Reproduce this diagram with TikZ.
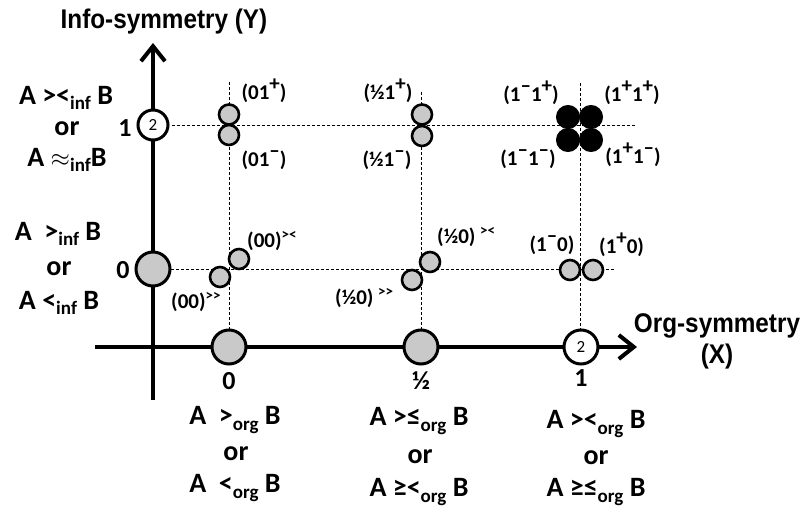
\documentclass[tikz,border=0pt]{standalone}
\usepackage{fontspec}
\setmainfont{Carlito}
\newfontfamily\titlefont[FakeStretch=0.9]{Liberation Sans Bold}
\usetikzlibrary{arrows.meta}
\newcommand\subtxt[1]{\raisebox{-0.4ex}{\fontsize{19}{19}\selectfont #1}}
\newcommand\suptxt[1]{\raisebox{0.85ex}{\fontsize{21}{21}\selectfont #1}}
\newcommand\supsm[1]{\raisebox{0.8ex}{\fontsize{15}{15}\selectfont #1}}
\begin{document}
\begin{tikzpicture}[x=1pt,y=-1pt,
  axis/.style={line width=4.5pt,-{Straight Barb[length=15pt,width=24pt,line width=4pt]}},
  grid/.style={densely dashed,line width=0.8pt},
  bigc/.style={circle,draw,line width=3pt,fill=gray!42,minimum size=34pt,inner sep=0pt},
  wc/.style={circle,draw,line width=3pt,fill=white,inner sep=0pt,font=\fontsize{17}{17}\selectfont},
  smc/.style={circle,draw,line width=2.6pt,fill=gray!42,minimum size=20pt,inner sep=0pt},
  blk/.style={circle,draw,line width=1pt,fill=black,minimum size=23pt,inner sep=0pt},
  lab/.style={font=\bfseries\fontsize{28}{28}\selectfont,inner sep=0pt},
  tk/.style={font=\bfseries\fontsize{26}{26}\selectfont,inner sep=0pt},
  pl/.style={font=\bfseries\fontsize{21}{21}\selectfont,inner sep=0pt},
  ttl/.style={font=\titlefont\fontsize{27}{31}\selectfont,inner sep=0pt,align=center}]
\useasboundingbox (0,0) rectangle (804,516);

% grid lines
\coordinate (h1a) at (172,125); \coordinate (h1b) at (635,125);
\coordinate (h0a) at (171,269); \coordinate (h0b) at (615,269);
\coordinate (v0a) at (229,82);  \coordinate (v0b) at (229,330);
\coordinate (vha) at (421,92);  \coordinate (vhb) at (421,330);
\coordinate (v1a) at (580,83);  \coordinate (v1b) at (580,330);
\draw[grid] (h1a) -- (h1b);
\draw[grid] (h0a) -- (h0b);
\draw[grid] (v0a) -- (v0b);
\draw[grid] (vha) -- (vhb);
\draw[grid] (v1a) -- (v1b);

% axes
\coordinate (xs) at (95,347); \coordinate (xe) at (637,347);
\coordinate (ys) at (153,400); \coordinate (ye) at (153,43);
\draw[axis] (xs) -- (xe);
\draw[axis] (ys) -- (ye);

% axis circles
\node[wc,minimum size=30pt] (y1) at (153,125) {2};
\node[bigc] (y0) at (153,269) {};
\node[bigc] (x0) at (229,347) {};
\node[bigc] (xh) at (421,347) {};
\node[wc,minimum size=34pt] (x1) at (581,347) {2};

% points row 1
\node[smc] (p01p) at (229,114.5) {};
\node[smc] (p01m) at (229,135) {};
\node[smc] (ph1p) at (422,114.5) {};
\node[smc] (ph1m) at (422,136) {};
\node[blk] (b11) at (568,117) {};
\node[blk] (b21) at (591,117) {};
\node[blk] (b12) at (568,140) {};
\node[blk] (b22) at (591,140) {};

% points row 0
\node[smc] (p00a) at (220,277) {};
\node[smc] (p00b) at (239,259) {};
\node[smc] (ph0a) at (412,280) {};
\node[smc] (ph0b) at (430,262) {};
\node[smc] (p10m) at (570,270) {};
\node[smc] (p10p) at (593,270) {};

% point labels
\node[pl] (l01p) at (264,91) {(01\suptxt{+})};
\node[pl] (l01m) at (264,160) {(01\suptxt{–})};
\node[pl] (lh1p) at (388,91) {(½1\suptxt{+})};
\node[pl] (lh1m) at (387,160) {(½1\suptxt{–})};
\node[pl] (l11a) at (531,93) {(1\suptxt{–}1\suptxt{+})};
\node[pl] (l11b) at (632,93) {(1\suptxt{+}1\suptxt{+})};
\node[pl] (l11c) at (528,159) {(1\suptxt{–}1\suptxt{–})};
\node[pl] (l11d) at (633,155) {(1\suptxt{+}1\suptxt{–})};
\node[pl,anchor=west] (l00b) at (247,241) {(00)\supsm{>\kern0pt<}};
\node[pl,anchor=west] (l00a) at (171,302) {(00)\supsm{>\kern0pt>}};
\node[pl,anchor=west] (lh0b) at (437,237) {(½0) \supsm{>\kern0pt<}};
\node[pl,anchor=west] (lh0a) at (335,298) {(½0) \supsm{>\kern0pt>}};
\node[pl] (l10m) at (552,245) {(1\suptxt{–}0)};
\node[pl,anchor=west] (l10p) at (599,245) {(1\suptxt{+}0)};

% tick labels
\node[tk] (t1) at (125,128) {1};
\node[tk] (t0) at (123,270) {0};
\node[tk] (bx0) at (229,381) {0};
\node[tk] (bxh) at (421,381) {½};
\node[tk] (bx1) at (581,378) {1};

% left labels
\node[lab] (ya1) at (66,98) {A ><\subtxt{inf} B};
\node[lab] (ya2) at (67,129) {or};
\node[lab] (ya3) at (67,160) {A $\approx$\subtxt{inf}B};
\node[lab] (yb1) at (58,234) {A \ >\subtxt{inf} B};
\node[lab] (yb2) at (59,269) {or};
\node[lab] (yb3) at (59,303) {A <\subtxt{inf} B};

% bottom labels
\node[lab] (c01) at (235,420) {A \ >\subtxt{org} B};
\node[lab] (c02) at (236,454) {or};
\node[lab] (c03) at (235,488) {A \ <\subtxt{org} B};
\node[lab] (ch1) at (419,421) {A >≤\subtxt{org} B};
\node[lab] (ch2) at (420,457) {or};
\node[lab] (ch3) at (419,492) {A ≥<\subtxt{org} B};
\node[lab] (c11) at (596,424) {A ><\subtxt{org} B};
\node[lab] (c12) at (596,458) {or};
\node[lab] (c13) at (596,492) {A ≥≤\subtxt{org} B};

% titles
\node[ttl] (ty) at (164,22) {Info-symmetry (Y)};
\node[ttl] (tx) at (717,341) {Org-symmetry\\(X)};
\end{tikzpicture}
\end{document}
